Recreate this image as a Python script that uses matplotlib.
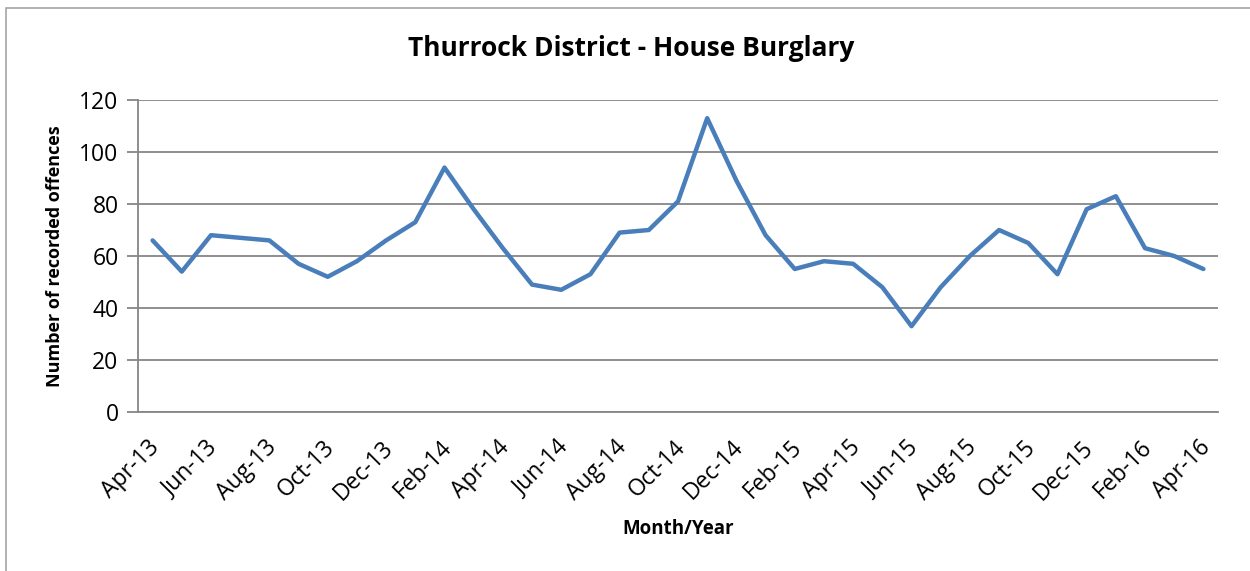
import matplotlib
matplotlib.use("Agg")
import matplotlib.pyplot as plt
from matplotlib.patches import Rectangle
from matplotlib.transforms import ScaledTranslation

months = ["Apr-13", "May-13", "Jun-13", "Jul-13", "Aug-13", "Sep-13", "Oct-13", "Nov-13",
          "Dec-13", "Jan-14", "Feb-14", "Mar-14", "Apr-14", "May-14", "Jun-14", "Jul-14",
          "Aug-14", "Sep-14", "Oct-14", "Nov-14", "Dec-14", "Jan-15", "Feb-15", "Mar-15",
          "Apr-15", "May-15", "Jun-15", "Jul-15", "Aug-15", "Sep-15", "Oct-15", "Nov-15",
          "Dec-15", "Jan-16", "Feb-16", "Mar-16", "Apr-16"]
offences = [66, 54, 68, 67, 66, 57, 52, 58, 66, 73, 94, 78, 63, 49, 47, 53,
            69, 70, 81, 113, 89, 68, 55, 58, 57, 48, 33, 48, 60, 70, 65, 53,
            78, 83, 63, 60, 55]
yticks = [0, 20, 40, 60, 80, 100, 120]

plt.rcParams['font.family'] = ['Open Sans', 'DejaVu Sans']

fig = plt.figure(figsize=(12.5, 5.71), dpi=100)
fig.patches.append(Rectangle((6/1250, -0.1), 1.2, 1 - 8/571 + 0.1, transform=fig.transFigure,
                             fill=False, edgecolor='#a6a6a6', linewidth=1.2))
ax = fig.add_axes([138/1250, 1 - 412/571, 1080/1250, 312/571])

x = list(range(len(months)))
ax.plot(x, offences, color='#4a7ebb', linewidth=3.2, solid_joinstyle='round', solid_capstyle='round', zorder=3)

ax.set_xlim(-0.5, len(months) - 0.5)
ax.set_ylim(0, 120)
ax.set_yticks(yticks)
ax.set_yticklabels([str(v) for v in yticks], fontsize=16.5)
ax.grid(axis='y', color='#868686', linewidth=1.3)
ax.set_axisbelow(True)

ax.set_xticks(x[::2])
ax.set_xticklabels(months[::2], rotation=45, ha='right', va='top', rotation_mode='anchor', fontsize=16.5)
ax.tick_params(axis='x', length=0, pad=17)
ax.tick_params(axis='y', length=8, color='#868686', width=1.3, pad=6)
off = ScaledTranslation(-5/100, 0, fig.dpi_scale_trans)
for lbl in ax.get_xticklabels():
    lbl.set_transform(lbl.get_transform() + off)

for s in ['top', 'right']:
    ax.spines[s].set_visible(False)
for s in ['left', 'bottom']:
    ax.spines[s].set_color('#868686')
    ax.spines[s].set_linewidth(1.3)

fig.text(631/1250, 1 - 48/571, "Thurrock District - House Burglary", ha='center', va='center',
         fontsize=19, fontweight='bold')
fig.text(678/1250, 1 - 529/571, "Month/Year", ha='center', va='center', fontsize=13.5, fontweight='bold')
fig.text(55/1250, 1 - 256/571, "Number of recorded offences", ha='center', va='center',
         rotation=90, fontsize=13, fontweight='bold')

fig.savefig("out.png", dpi=100)
